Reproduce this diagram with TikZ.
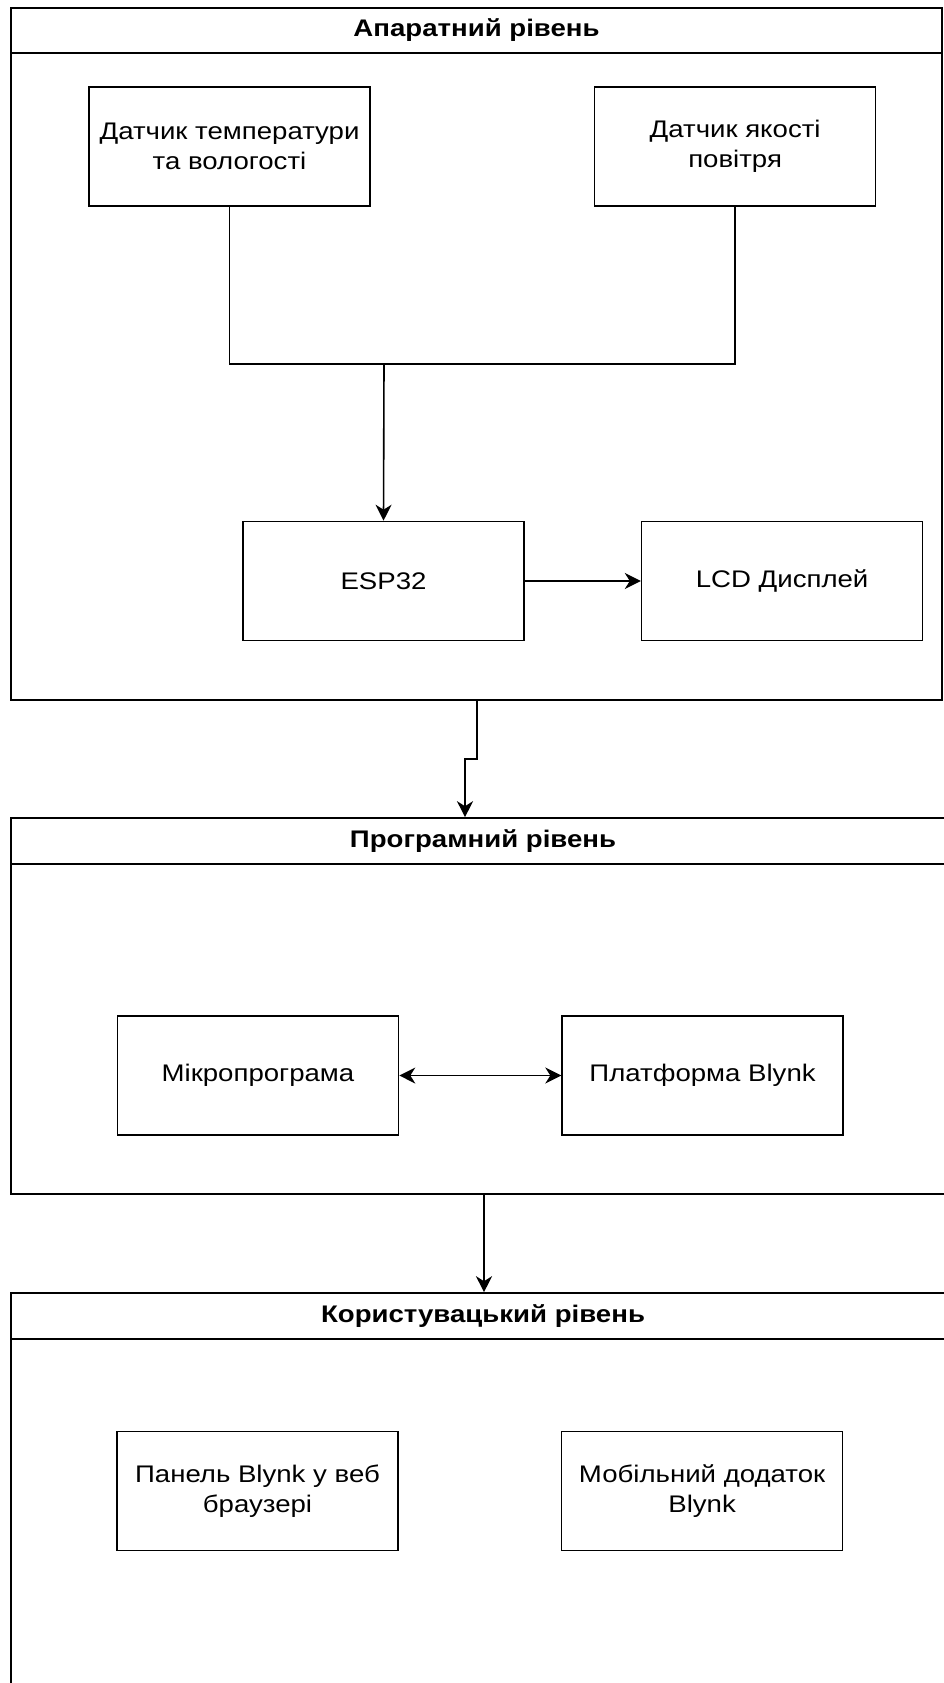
\documentclass[tikz,border=0pt]{standalone}
\usepackage{fontspec}
\setmainfont{Liberation Sans}[FakeStretch=1.15]
\usetikzlibrary{positioning,arrows.meta}

\begin{document}
\begin{tikzpicture}[x=1pt, y=-1pt, line width=1.6pt,
	main/.style={draw, rectangle, minimum width=281pt, minimum height=119pt, inner sep=0pt, align=center, font=\fontsize{24}{30}\selectfont},
	head/.style={draw, rectangle, minimum height=46pt, inner sep=0pt, font=\bfseries\fontsize{24}{30}\selectfont},
	lane/.style={draw, rectangle, inner sep=0pt},
	arr/.style={-{Stealth[length=16pt, width=16pt, inset=5pt]}},
	arrboth/.style={{Stealth[length=16pt, width=16pt, inset=5pt]}-{Stealth[length=16pt, width=16pt, inset=5pt]}}]
		\useasboundingbox (0,0) rectangle (944,1683);
		\clip (0,0) rectangle (944,1683);

		% hardware level
		\node[lane, minimum width=931pt, minimum height=647pt] (hw) at (476.5,376.5) {};
		\node[head, minimum width=931pt, minimum height=45pt] (hwhead) at (476.5,30.5) {Апаратний рівень};
		\node[main] (temp) at (229.5,146.5) {Датчик температури\\та вологості};
		\node[main] (air) [right=223pt of temp] {Датчик якості\\повітря};
		\node[main] (esp) at (383.5,581) {ESP32};
		\node[main] (lcd) [right=116pt of esp] {LCD Дисплей};
		\coordinate (join) at (384,364);

		% software level
		\node[lane, minimum width=944pt, minimum height=330pt] (sw) at (483,1029) {};
		\node[head, minimum width=944pt] (swhead) at (483,841) {Програмний рівень};
		\node[main] (fw) at (258,1075.5) {Мікропрограма};
		\node[main] (blynk) [right=162pt of fw] {Платформа Blynk};

		% user level
		\node[lane, minimum width=944pt, minimum height=381pt] (usr) at (483,1529.5) {};
		\node[head, minimum width=944pt] (usrhead) at (483,1316) {Користувацький рівень};
		\node[main] (web) at (257.5,1491) {Панель Blynk у веб\\браузері};
		\node[main] (app) [right=162pt of web] {Мобільний додаток\\Blynk};

		\coordinate (bend1) at (477,759);
		\coordinate (bend2) at (465,759);

		\draw (temp.south) |- (join) -| (air.south);
		\draw[arr] (join) -- (esp.north);
		\draw[arr] (esp.east) -- (lcd.west);
		\draw[arr] (hw.south -| bend1) -- (bend1) -- (bend2) -- (bend2 |- swhead.north);
		\draw[arrboth] (fw.east) -- (blynk.west);
		\draw[arr] (sw.south -| 484,0) -- (usrhead.north -| 484,0);
	\end{tikzpicture}
\end{document}
